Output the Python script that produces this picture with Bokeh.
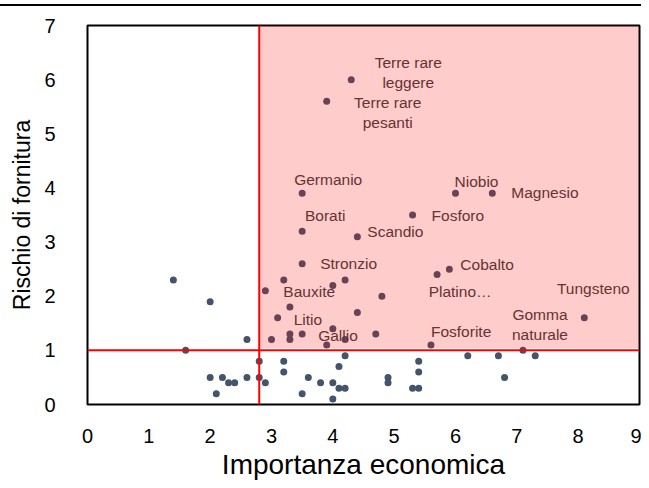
from bokeh.plotting import figure
from bokeh.models import Range1d, FixedTicker, Span, BoxAnnotation, ColumnDataSource
from bokeh.core.properties import value
from bokeh.embed import file_html
from bokeh.resources import INLINE

# ---------------- data ----------------
economic_importance = [
    1.4, 2.0, 1.6, 2.6, 2.8, 2.0, 2.2, 2.3, 2.4, 2.6, 2.8, 2.9, 2.1,
    3.2, 3.2, 3.6, 3.5, 3.8, 4.0, 4.0, 4.1, 4.2, 4.1, 4.2,
    5.4, 5.4, 4.9, 4.9, 5.3, 5.4,
    6.2, 6.7, 6.8, 7.1, 7.3,
    2.9, 3.0, 3.5, 3.2, 4.0, 4.2, 3.3, 3.1, 4.4, 3.3, 3.3, 3.5, 4.0, 4.2, 3.9,
    5.7, 5.9, 4.8, 4.7, 5.6, 8.1, 4.3, 3.9, 3.5, 6.0, 6.6, 5.3, 3.5, 4.4,
]
supply_risk = [
    2.3, 1.9, 1.0, 1.2, 0.8, 0.5, 0.5, 0.4, 0.4, 0.5, 0.5, 0.4, 0.2,
    0.8, 0.6, 0.5, 0.2, 0.4, 0.4, 0.1, 0.3, 0.3, 0.7, 0.9,
    0.8, 0.6, 0.5, 0.4, 0.3, 0.3,
    0.9, 0.9, 0.5, 1.0, 0.9,
    2.1, 1.2, 2.6, 2.3, 2.2, 2.3, 1.8, 1.6, 1.7, 1.3, 1.2, 1.3, 1.4, 1.2, 1.1,
    2.4, 2.5, 2.0, 1.3, 1.1, 1.6, 6.0, 5.6, 3.9, 3.9, 3.9, 3.5, 3.2, 3.1,
]

# labelled materials (value of the point they label)
label_names = [
    "Terre rare\nleggere", "Terre rare\npesanti", "Germanio", "Niobio", "Borati",
    "Platino…", "Gomma\nnaturale", "Tungsteno",
    "Magnesio", "Fosforo", "Scandio", "Stronzio", "Cobalto", "Bauxite",
    "Litio", "Gallio", "Fosforite",
]
label_ei = [4.3, 3.9, 3.5, 6.0, 3.5, 5.7, 7.1, 8.1, 6.6, 5.3, 4.4, 3.5, 5.9, 2.9, 3.1, 3.5, 5.6]
label_sr = [6.0, 5.6, 3.9, 3.9, 3.2, 2.4, 1.0, 1.6, 3.9, 3.5, 3.1, 2.6, 2.5, 2.1, 1.6, 1.3, 1.1]

x_ticks = [0, 1, 2, 3, 4, 5, 6, 7, 8, 9]
y_ticks = [0, 1, 2, 3, 4, 5, 6, 7]
threshold_ei = 2.8
threshold_sr = 1.0
x_title = "Importanza economica"
y_title = "Rischio di fornitura"

# ---------------- label placement (pixels) ----------------
label_dx = [57, 61, 26, 21, 23, 23, 17, 9, 19, 19, 10, 18, 11, 18, 16, 16, 0]
label_dy = [-7, 11, -14, -12, -16, 17, -26, -29, -1, 0, -5, 0, -5, 1, 2, 1, -13]
label_align = ["center"] * 8 + ["left"] * 9

FONT = "Liberation Sans"

p = figure(
    width=641, height=484,
    x_range=Range1d(0, 9), y_range=Range1d(0, 7),
    output_backend="svg", toolbar_location=None,
    min_border_left=87, min_border_right=2,
    min_border_top=25, min_border_bottom=80,
)
p.background_fill_color = "white"
p.border_fill_color = None
p.styles = {"background": "linear-gradient(to bottom, white 0px, white 4px, black 4px, black 6px, white 6px, white 100%)"}
p.outline_line_color = "black"
p.outline_line_width = 2
p.xgrid.visible = False
p.ygrid.visible = False

for ax in (p.xaxis[0], p.yaxis[0]):
    ax.axis_line_color = None
    ax.major_tick_line_color = None
    ax.minor_tick_line_color = None
    ax.major_label_text_font = FONT
    ax.major_label_text_font_size = "20px"
    ax.major_label_text_color = "black"
    ax.axis_label_text_font = FONT
    ax.axis_label_text_font_style = "normal"
    ax.axis_label_text_color = "black"

p.xaxis.axis_label_text_font_size = "28px"
p.yaxis.axis_label_text_font_size = "23px"
p.xaxis.ticker = FixedTicker(ticks=x_ticks)
p.yaxis.ticker = FixedTicker(ticks=y_ticks)
p.xaxis.axis_label = x_title
p.yaxis.axis_label = y_title
p.xaxis.major_label_standoff = 18
p.xaxis.axis_label_standoff = 3
p.yaxis.major_label_standoff = 26
p.yaxis.axis_label_standoff = 6

p.add_layout(Span(location=threshold_sr, dimension="width", line_color="red", line_width=2))
p.add_layout(Span(location=threshold_ei, dimension="height", line_color="red", line_width=2))

p.scatter(economic_importance, supply_risk, size=7, color="#44546A", line_color=None)

for align in ("center", "left"):
    idx = [i for i, a in enumerate(label_align) if a == align]
    src = ColumnDataSource(dict(
        x=[label_ei[i] for i in idx], y=[label_sr[i] for i in idx],
        text=[label_names[i] for i in idx],
        dx=[label_dx[i] for i in idx], dy=[label_dy[i] for i in idx],
    ))
    p.text(x="x", y="y", text="text", x_offset="dx", y_offset="dy", source=src,
           text_align=align, text_baseline="middle", text_font_size="15.5px",
           text_font=value(FONT), text_color="#404040", text_line_height=1.2)

p.add_layout(BoxAnnotation(left=threshold_ei, right=8.99, bottom=1.04, top=7.04,
                           fill_color="red", fill_alpha=0.2, line_color=None,
                           level="overlay"))

open("out.html", "w").write(file_html(p, INLINE))
